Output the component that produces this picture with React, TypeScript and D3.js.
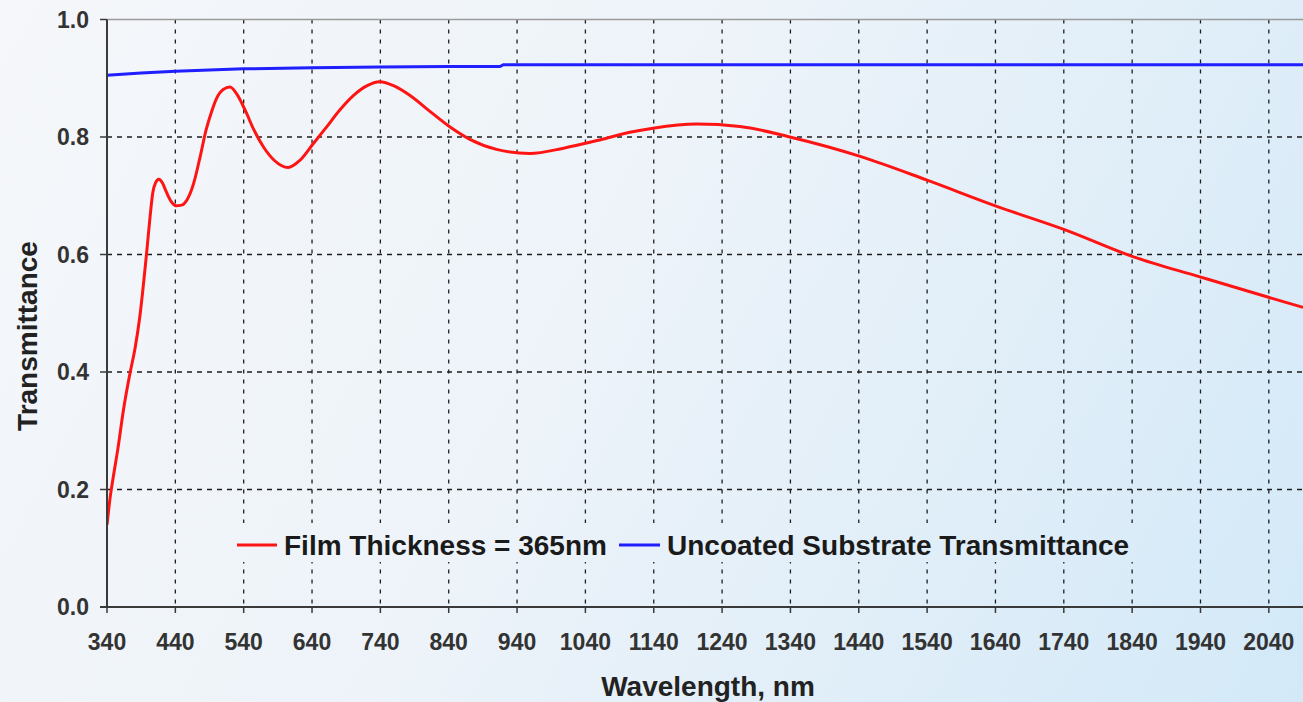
import React from "react";
import * as d3 from "d3";

const W = 1303;
const H = 702;

const xTicks = [340, 440, 540, 640, 740, 840, 940, 1040, 1140, 1240, 1340, 1440, 1540, 1640, 1740, 1840, 1940, 2040];
const yTicks = [0, 0.2, 0.4, 0.6, 0.8, 1.0];

const filmWavelength = [340, 345, 349, 356, 364, 374, 381, 388, 398, 403, 407, 411, 416, 421, 427, 434, 441, 449, 458, 467, 476, 485, 493, 500, 510, 520, 530, 542, 555, 569, 585, 605, 622, 642, 660, 680, 700, 720, 739, 760, 783, 812, 842, 871, 910, 959, 1008, 1061, 1105, 1139, 1203, 1266, 1339, 1442, 1539, 1642, 1742, 1842, 1939, 2037, 2090];
const filmT = [0.14, 0.19, 0.22, 0.27, 0.335, 0.4, 0.44, 0.494, 0.603, 0.664, 0.705, 0.722, 0.728, 0.722, 0.706, 0.69, 0.683, 0.684, 0.695, 0.722, 0.765, 0.812, 0.843, 0.865, 0.881, 0.885, 0.873, 0.846, 0.812, 0.783, 0.76, 0.748, 0.76, 0.789, 0.815, 0.845, 0.87, 0.887, 0.894, 0.887, 0.871, 0.844, 0.817, 0.796, 0.779, 0.772, 0.781, 0.795, 0.808, 0.815, 0.822, 0.818, 0.8, 0.767, 0.727, 0.682, 0.642, 0.596, 0.562, 0.528, 0.51];

const substrateWavelength = [340, 390, 440, 490, 540, 640, 740, 840, 915, 920, 1200, 1600, 2090];
const substrateT = [0.905, 0.909, 0.912, 0.914, 0.916, 0.918, 0.919, 0.92, 0.92, 0.923, 0.923, 0.923, 0.923];

const legendLabels = ["Film Thickness = 365nm", "Uncoated Substrate Transmittance"];
const FONT = "'Liberation Sans', Arial, Helvetica, sans-serif";

export default function App() {
  const left = 107, right = 1303, top = 19.5, bottom = 607;
  const x = d3.scaleLinear().domain([340, 2090]).range([left, right]);
  const y = d3.scaleLinear().domain([0, 1]).range([bottom, top]);

  const filmPath = d3.line<[number, number]>().x(d => x(d[0])).y(d => y(d[1])).curve(d3.curveMonotoneX)(
    filmWavelength.map((w, i) => [w, filmT[i]] as [number, number])
  );
  const subPath = d3.line<[number, number]>().x(d => x(d[0])).y(d => y(d[1])).curve(d3.curveLinear)(
    substrateWavelength.map((w, i) => [w, substrateT[i]] as [number, number])
  );

  return (
    <div style={{ position: "absolute", left: 0, top: 0, width: W, height: H }}>
      <svg width={W} height={H} style={{ display: "block" }}>
        <defs>
          <linearGradient id="bg" gradientUnits="userSpaceOnUse" x1="0" y1="0" x2={W} y2={H}>
            <stop offset="0" stopColor="#f5f7fa" />
            <stop offset="0.45" stopColor="#edf3f9" />
            <stop offset="1" stopColor="#d3e9f8" />
          </linearGradient>
          <clipPath id="plot">
            <rect x={left} y={top - 2} width={right - left} height={bottom - top + 4} />
          </clipPath>
        </defs>
        <rect x={0} y={0} width={W} height={H} fill="url(#bg)" />

        {/* grid */}
        {yTicks.filter(t => t > 0 && t < 1).map(t => (
          <line key={"hy" + t} x1={left} x2={right} y1={y(t)} y2={y(t)} stroke="#1e1e1e" strokeWidth={1.3} strokeDasharray="5,5" />
        ))}
        {xTicks.filter(t => t > 340).map(t => (
          <line key={"vx" + t} x1={x(t)} x2={x(t)} y1={top} y2={bottom} stroke="#1e1e1e" strokeWidth={1.3} strokeDasharray="4,6" />
        ))}
        <line x1={left} x2={right} y1={top} y2={top} stroke="#9a9a9a" strokeWidth={1.5} />

        {/* legend background */}
        <rect x={228} y={523} width={915} height={39} fill="url(#bg)" />

        {/* series */}
        <g clipPath="url(#plot)">
          <path d={subPath || ""} fill="none" stroke="#1f1fff" strokeWidth={3} />
          <path d={filmPath || ""} fill="none" stroke="#ff1414" strokeWidth={3} />
        </g>

        {/* axes */}
        <line x1={left} x2={left} y1={top} y2={bottom} stroke="#3a3a3a" strokeWidth={2} />
        <line x1={left - 7} x2={right} y1={bottom} y2={bottom} stroke="#3a3a3a" strokeWidth={2.2} />
        {yTicks.map(t => (
          <g key={"yt" + t}>
            <line x1={left - 7} x2={left} y1={y(t)} y2={y(t)} stroke="#3a3a3a" strokeWidth={1.5} />
            <text x={89} y={y(t) + 8} textAnchor="end" fontFamily={FONT} fontWeight="bold" fontSize={23} fill="#333">
              {t.toFixed(1)}
            </text>
          </g>
        ))}
        {xTicks.map(t => (
          <g key={"xt" + t}>
            <line x1={x(t)} x2={x(t)} y1={bottom} y2={bottom + 6} stroke="#3a3a3a" strokeWidth={1.5} />
            <text x={x(t)} y={650} textAnchor="middle" fontFamily={FONT} fontWeight="bold" fontSize={23} fill="#333">
              {t}
            </text>
          </g>
        ))}

        {/* axis titles */}
        <text x={708} y={696} textAnchor="middle" fontFamily={FONT} fontWeight="bold" fontSize={28} fill="#222">
          Wavelength, nm
        </text>
        <text transform="translate(37,336) rotate(-90)" textAnchor="middle" fontFamily={FONT} fontWeight="bold" fontSize={28} fill="#222">
          Transmittance
        </text>

        {/* legend */}
        <line x1={237} x2={277} y1={545} y2={545} stroke="#ff1414" strokeWidth={3} />
        <text x={284} y={555} fontFamily={FONT} fontWeight="bold" fontSize={28} fill="#1a1a1a">{legendLabels[0]}</text>
        <line x1={619} x2={660} y1={545} y2={545} stroke="#1f1fff" strokeWidth={3} />
        <text x={667} y={555} fontFamily={FONT} fontWeight="bold" fontSize={28} fill="#1a1a1a">{legendLabels[1]}</text>
      </svg>
    </div>
  );
}
